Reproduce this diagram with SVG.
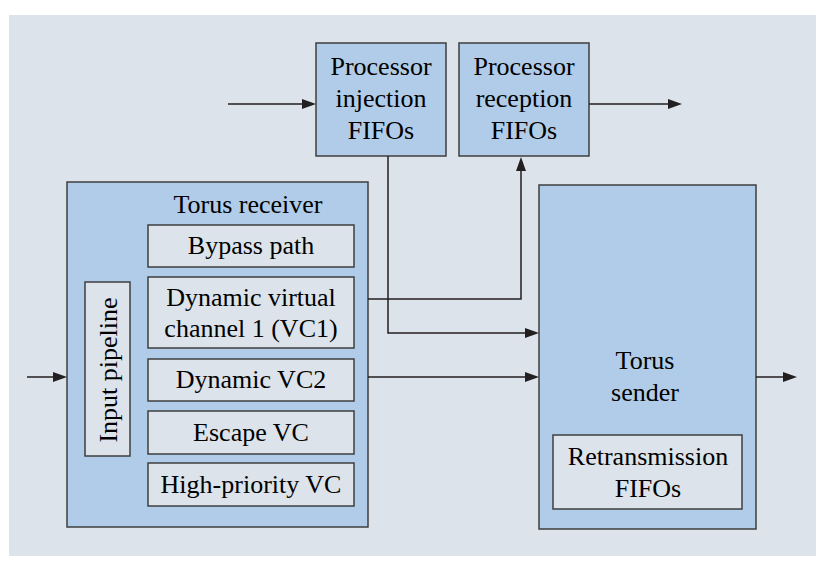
<svg xmlns="http://www.w3.org/2000/svg" width="826" height="568" viewBox="0 0 826 568">
<rect x="0" y="0" width="826" height="568" fill="#ffffff"/>
<rect x="9" y="15" width="807" height="541" fill="#dce3ea"/>
<g id="inj">
<rect x="316" y="43" width="130" height="113" fill="#b1cce8" stroke="#3e3e3e" stroke-width="1.5"/>
<text x="381" y="75" font-size="26" font-family="Times New Roman" text-anchor="middle">Processor</text>
<text x="381" y="107" font-size="26" font-family="Times New Roman" text-anchor="middle">injection</text>
<text x="381" y="139" font-size="26" font-family="Times New Roman" text-anchor="middle">FIFOs</text>
</g>
<g id="rec">
<rect x="459" y="43" width="130" height="113" fill="#b1cce8" stroke="#3e3e3e" stroke-width="1.5"/>
<text x="524" y="75" font-size="26" font-family="Times New Roman" text-anchor="middle">Processor</text>
<text x="524" y="107" font-size="26" font-family="Times New Roman" text-anchor="middle">reception</text>
<text x="524" y="139" font-size="26" font-family="Times New Roman" text-anchor="middle">FIFOs</text>
</g>
<g id="receiver">
<rect x="67" y="182" width="301" height="345" fill="#b1cce8" stroke="#3e3e3e" stroke-width="1.5"/>
<text x="248" y="213" font-size="26" font-family="Times New Roman" text-anchor="middle">Torus receiver</text>
</g>
<g id="pipeline">
<rect x="85" y="282" width="45" height="174" fill="#dce3ea" stroke="#3e3e3e" stroke-width="1.5"/>
<text transform="translate(117,370) rotate(-90)" font-size="26" font-family="Times New Roman" text-anchor="middle">Input pipeline</text>
</g>
<g id="bypass">
<rect x="148" y="225" width="206" height="42" fill="#dce3ea" stroke="#3e3e3e" stroke-width="1.5"/>
<text x="251" y="254" font-size="26" font-family="Times New Roman" text-anchor="middle">Bypass path</text>
</g>
<g id="vc1">
<rect x="148" y="277" width="206" height="71" fill="#dce3ea" stroke="#3e3e3e" stroke-width="1.5"/>
<text x="251" y="306" font-size="26" font-family="Times New Roman" text-anchor="middle">Dynamic virtual</text>
<text x="251" y="337" font-size="26" font-family="Times New Roman" text-anchor="middle">channel 1 (VC1)</text>
</g>
<g id="vc2">
<rect x="148" y="359" width="206" height="42" fill="#dce3ea" stroke="#3e3e3e" stroke-width="1.5"/>
<text x="251" y="388" font-size="26" font-family="Times New Roman" text-anchor="middle">Dynamic VC2</text>
</g>
<g id="escape">
<rect x="148" y="411" width="206" height="43" fill="#dce3ea" stroke="#3e3e3e" stroke-width="1.5"/>
<text x="251" y="441" font-size="26" font-family="Times New Roman" text-anchor="middle">Escape VC</text>
</g>
<g id="hp">
<rect x="148" y="463" width="206" height="43" fill="#dce3ea" stroke="#3e3e3e" stroke-width="1.5"/>
<text x="251" y="493" font-size="26" font-family="Times New Roman" text-anchor="middle">High-priority VC</text>
</g>
<g id="sender">
<rect x="539" y="185" width="217" height="344" fill="#b1cce8" stroke="#3e3e3e" stroke-width="1.5"/>
<text x="645" y="369" font-size="26" font-family="Times New Roman" text-anchor="middle">Torus</text>
<text x="645" y="401" font-size="26" font-family="Times New Roman" text-anchor="middle">sender</text>
</g>
<g id="retrans">
<rect x="553" y="435" width="189" height="74" fill="#dce3ea" stroke="#3e3e3e" stroke-width="1.5"/>
<text x="648" y="465" font-size="26" font-family="Times New Roman" text-anchor="middle">Retransmission</text>
<text x="648" y="497" font-size="26" font-family="Times New Roman" text-anchor="middle">FIFOs</text>
</g>
<g id="connectors">
<path d="M228,104 H302 M589,104 H668 M27,377 H53 M368,299 H521 V171 M388,156 V333 H525 M368,377 H525 M756,377 H783" fill="none" stroke="#231f20" stroke-width="1.5"/>
<path d="M302,99 L316,104 L302,109 Z M668,99 L682,104 L668,109 Z M53,372 L67,377 L53,382 Z M516,171 L521,157 L526,171 Z M525,328 L539,333 L525,338 Z M525,372 L539,377 L525,382 Z M783,372 L797,377 L783,382 Z" fill="#231f20"/>
</g>
</svg>
